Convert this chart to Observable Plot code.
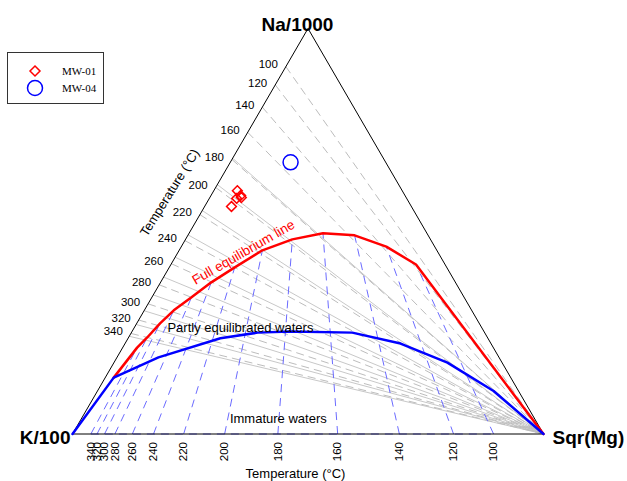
<!DOCTYPE html>
<html><head><meta charset="utf-8">
<script src="https://cdn.jsdelivr.net/npm/d3@7"></script>
<script src="https://cdn.jsdelivr.net/npm/@observablehq/plot@0.6"></script>
<style>
body{margin:0;background:#fff;}
#wrap{position:relative;width:627px;height:481px;}
#legend{position:absolute;left:7px;top:52px;width:97px;height:52px;border:1px solid #333;background:#fff;box-sizing:border-box;}
#legend text{font-family:"Liberation Serif","Times New Roman",serif;font-size:11px;}
</style></head><body>
<div id="wrap"><div id="chart"></div>
<div id="legend"><svg width="95" height="50">
<polygon points="27,13 32,18 27,23 22,18" fill="none" stroke="#ff0000" stroke-width="1.5"/>
<text x="54" y="22">MW-01</text>
<circle cx="27" cy="35" r="7.5" fill="none" stroke="#0000ff" stroke-width="1.5"/>
<text x="54" y="39">MW-04</text>
</svg></div></div>
<script>
// Na-K isotherms (dashed, labelled): Na fraction on the K/100 – Na/1000 edge
const naKTemps = [100,120,140,160,180,200,220,240,260,280,300,320,340];
const naKEdge  = [0.906,0.861,0.806,0.744,0.677,0.608,0.541,0.477,0.420,0.368,0.321,0.281,0.248];
// second set of Na-K isotherms (solid)
const naKTemps2 = [160,180,200,220,240,260,280,300,320,340];
const naKEdge2  = [0.680,0.615,0.551,0.491,0.436,0.387,0.343,0.304,0.270,0.241];
// K-Mg isotherms: Sqr(Mg) fraction on the K/100 – Sqr(Mg) edge
const kMgTemps = [100,120,140,160,180,200,220,240,260,280,300,320,340];
const kMgEdge  = [0.894,0.809,0.694,0.563,0.436,0.323,0.236,0.172,0.127,0.090,0.068,0.052,0.039];
// Na fraction where each K-Mg isotherm meets the full equilibrium line
const eqNa     = [0.418,0.462,0.490,0.495,0.480,0.453,0.411,0.374,0.337,0.305,0.273,0.238,0.213];
// full equilibrium line end points [Na, K, Mg]
const eqStart = [0.139,0.843,0.018];
const eqEnd   = [0,0,1];
// immature waters boundary (partial equilibration) [Na, K, Mg]
const immature = [[0,1,0],[0.139,0.843,0.018],[0.189,0.723,0.088],[0.236,0.568,0.196],[0.250,0.482,0.268],
  [0.253,0.411,0.336],[0.250,0.281,0.469],[0.223,0.192,0.585],[0.176,0.116,0.708],[0.106,0.053,0.841],[0,0,1]];
// samples [Na, K, Mg]
const mw01 = [[0.600,0.350,0.050],[0.588,0.349,0.063],[0.581,0.361,0.058],[0.583,0.350,0.067],[0.561,0.382,0.057]];
const mw04 = [[0.670,0.202,0.128]];
const vertexNames = ["Na/1000","K/100","Sqr(Mg)"];

const SQ = Math.sqrt(3)/2;
const px = ([na,k,mg]) => (mg + na/2)/(na+k+mg);
const py = ([na,k,mg]) => SQ*na/(na+k+mg);
const NA=[1,0,0], K=[0,1,0], MG=[0,0,1];
const font = "Liberation Sans, Arial, sans-serif";

const iso1 = naKTemps.map((t,i)=>({t, a:[naKEdge[i],1-naKEdge[i],0], b:MG}));
const iso2 = naKTemps2.map((t,i)=>({t, a:[naKEdge2[i],1-naKEdge2[i],0], b:MG}));
const isoKMg = kMgTemps.map((t,i)=>{const g=kMgEdge[i], n=eqNa[i];
  return {t, a:[0,1-g,g], b:[n,(1-n)*(1-g),(1-n)*g]};});
const eqLine = [eqStart, ...isoKMg.slice().reverse().map(d=>d.b), eqEnd];
const tri = [K, MG, NA, K];
const bottomSeg = [{a:[0,1-kMgEdge[12],kMgEdge[12]], b:[0,1-kMgEdge[0],kMgEdge[0]]}];

const linkOpts = {x1:d=>px(d.a), y1:d=>py(d.a), x2:d=>px(d.b), y2:d=>py(d.b)};

const chart = Plot.plot({
  width: 627, height: 481,
  marginLeft: 72, marginRight: 84, marginTop: 28, marginBottom: 47.5,
  x: {domain:[0,1], axis:null},
  y: {domain:[0,SQ], axis:null},
  style: {fontFamily: font, background:"white", overflow:"visible"},
  marks: [
    Plot.link(iso2, {...linkOpts, stroke:"#c8c8c8", strokeWidth:1}),
    Plot.link(iso1, {...linkOpts, stroke:"#bdbdbd", strokeWidth:1, strokeDasharray:"8,5"}),
    Plot.link(isoKMg, {...linkOpts, stroke:"#6b6bff", strokeWidth:1, strokeDasharray:"8,6"}),
    Plot.link(bottomSeg, {...linkOpts, stroke:"#6b6bff", strokeWidth:1, strokeDasharray:"8,6"}),
    Plot.line(tri, {x:px, y:py, stroke:"black", strokeWidth:1}),
    Plot.line(eqLine, {x:px, y:py, stroke:"#ff0000", strokeWidth:2.5, strokeLinejoin:"miter"}),
    Plot.line(immature, {x:px, y:py, stroke:"#0000ff", strokeWidth:2.5, strokeLinejoin:"miter"}),
    Plot.dot(mw01, {x:px, y:py, symbol:"diamond2", r:4.4, stroke:"#ff0000", fill:"none", strokeWidth:1.5}),
    Plot.dot(mw04, {x:px, y:py, symbol:"circle", r:7.5, stroke:"#0000ff", fill:"none", strokeWidth:1.5}),
    // tick labels
    Plot.text(iso1, {x:d=>px(d.a), y:d=>py(d.a), text:d=>String(d.t), textAnchor:"end", dx:-8, dy:-2, fontSize:11.5, fill:"black"}),
    Plot.text(isoKMg, {x:d=>px(d.a), y:d=>py(d.a), text:d=>String(d.t), rotate:-90, textAnchor:"end", dy:8, fontSize:11.5, fill:"black"}),
    // axis titles
    Plot.text(["Temperature (°C)"], {x:()=>px([0.6,0.4,0]), y:()=>py([0.6,0.4,0]), text:d=>d, rotate:-58, dx:-44, dy:2, fontSize:13}),
    Plot.text(["Temperature (°C)"], {x:()=>px([0,0.5265,0.4735]), y:()=>0, text:d=>d, dy:39.5, fontSize:13}),
    // vertex labels
    Plot.text([vertexNames[0]], {x:()=>px(NA), y:()=>py(NA), text:d=>d, dx:-10.5, dy:-4, fontSize:19, fontWeight:"bold"}),
    Plot.text([vertexNames[1]], {x:()=>px(K), y:()=>py(K), text:d=>d, textAnchor:"end", dx:-2, dy:4, fontSize:19, fontWeight:"bold"}),
    Plot.text([vertexNames[2]], {x:()=>px(MG), y:()=>py(MG), text:d=>d, textAnchor:"start", dx:9, dy:4, fontSize:19, fontWeight:"bold"}),
    // region annotations
    Plot.text(["Full equilibrium line"], {x:()=>px([0.448,0.413,0.139]), y:()=>py([0.448,0.413,0.139]), text:d=>d, rotate:-30, fontSize:13.5, fill:"#ff0000"}),
    Plot.text(["Partly equilibrated waters"], {x:()=>px([0.263,0.512,0.225]), y:()=>py([0.263,0.512,0.225]), text:d=>d, fontSize:13, fill:"black"}),
    Plot.text(["Immature waters"], {x:()=>px([0.038,0.544,0.418]), y:()=>py([0.038,0.544,0.418]), text:d=>d, fontSize:13, fill:"black"})
  ]
});
document.getElementById("chart").appendChild(chart);
</script>
</body></html>
